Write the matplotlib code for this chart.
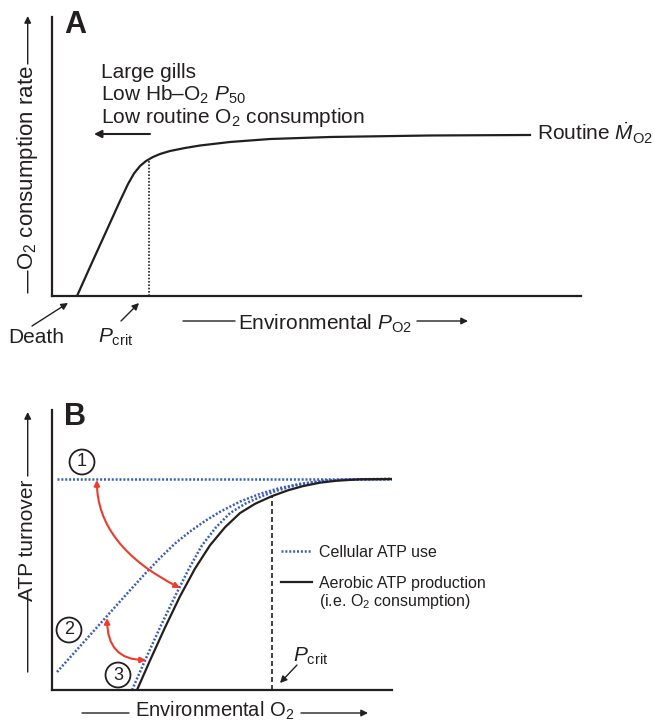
import matplotlib.pyplot as plt
from matplotlib.lines import Line2D
from matplotlib.patches import FancyArrowPatch

plt.rcParams['font.family'] = 'Liberation Sans'
plt.rcParams['mathtext.fontset'] = 'custom'
plt.rcParams['mathtext.rm'] = 'Liberation Sans'
plt.rcParams['mathtext.it'] = 'Liberation Sans:italic'
plt.rcParams['mathtext.bf'] = 'Liberation Sans:bold'

INK = '#231f20'
BLUE = '#3b5bbf'
RED = '#ee3b2b'
W, H = 654, 723
FS = 15

# panel A: routine O2 consumption vs environmental PO2 (schematic units 0-100)
po2_a = [4.73, 7.18, 10.02, 12.85, 14.37, 15.5, 16.64, 17.77, 19.09, 20.42, 22.31,
         25.14, 27.98, 33.65, 41.21, 52.55, 71.46, 90.36]
mo2_a = [0, 10.39, 22.22, 34.05, 40.14, 43.91, 46.59, 48.39, 49.82, 50.9, 51.97,
         53.05, 53.94, 55.2, 56.27, 56.99, 57.53, 57.71]
pcrit_a = 18.34
pcrit_a_top = 49.0

# panel B: ATP turnover vs environmental O2
aer_x = [25.0, 28.82, 33.24, 37.65, 42.06, 46.47, 50.88, 55.29, 59.71, 64.71, 69.41,
         73.82, 78.82, 83.82, 90.59, 100]
aer_y = [0, 10.54, 22.32, 33.46, 43.36, 51.68, 58.11, 63.18, 66.5, 69.25, 71.32,
         72.82, 74.04, 74.75, 75.25, 75.36]
use1_x = [1.47, 100]
use1_y = [75.36, 75.36]
use2_x = [1.47, 5.29, 9.71, 14.12, 18.53, 22.94, 27.35, 31.76, 36.18, 40.59, 45.0,
          49.41, 55.29, 61.18, 67.06, 72.94, 80.29, 87.65, 100]
use2_y = [6.43, 11.61, 17.61, 23.61, 29.61, 35.61, 41.5, 47.14, 52.32, 56.61, 60.36,
          63.64, 67.29, 70.07, 72.14, 73.64, 74.71, 75.18, 75.36]
use3_x = [23.53, 27.35, 31.76, 36.18, 40.29, 44.12, 48.24, 52.35, 56.76, 61.76, 66.47,
          70.88, 75.88, 80.88, 87.65, 100]
use3_y = [0, 10.54, 22.32, 33.46, 43.36, 51.68, 58.11, 63.18, 66.5, 69.25, 71.32,
          72.82, 74.04, 74.75, 75.25, 75.36]
pcrit_b = 64.71
pcrit_b_top = 69.25
# red arrows (start, end)
shift1 = [(13.2, 75.0), (37.65, 36.43)]
shift2 = [(16.2, 25.7), (27.65, 10.71)]

fig = plt.figure(figsize=(W / 100, H / 100), dpi=100)


def ftext(x, y, s, **kw):
    # x, y in image pixels (y from top)
    kw.setdefault('color', INK)
    kw.setdefault('fontsize', FS)
    fig.text(x / W, 1 - y / H, s, **kw)


def farrow(x0, y0, x1, y1, style='-|>', lw=1.0, ms=10):
    fig.add_artist(FancyArrowPatch(
        (x0, H - y0), (x1, H - y1), transform=None, arrowstyle=style,
        color=INK, lw=lw, mutation_scale=ms, shrinkA=0, shrinkB=0))


def setup(ax):
    for s in ['top', 'right']:
        ax.spines[s].set_visible(False)
    for s in ['left', 'bottom']:
        ax.spines[s].set_linewidth(1.6)
        ax.spines[s].set_color(INK)
    ax.set_xticks([])
    ax.set_yticks([])
    ax.set_xlim(0, 100)
    ax.set_ylim(0, 100)
    ax.patch.set_alpha(0)


# ---- panel A ----
axA = fig.add_axes([52 / W, (H - 296) / H, 529 / W, 279 / H])
setup(axA)
axA.plot(po2_a, mo2_a, color=INK, lw=1.6, solid_joinstyle='round')
axA.plot([pcrit_a, pcrit_a], [0, pcrit_a_top], color=INK, lw=1.2, ls=(0, (1, 1)))

ftext(64, 33, 'A', fontsize=22, fontweight='bold')
ftext(101, 78, 'Large gills')
ftext(101, 100.5, r'Low Hb–O$_2$ $P_{\mathrm{50}}$')
ftext(101, 123, r'Low routine O$_2$ consumption')
farrow(150, 134, 94, 134, lw=1.5, ms=11)
ftext(537, 141, r'Routine $\dot{M}_{\mathrm{O2}}$')

ftext(27.7, 168, r'O$_2$ consumption rate', rotation=90, ha='center', va='center',
      fontsize=16)
farrow(27.7, 64, 27.7, 16)
farrow(27.7, 293, 27.7, 271, style='-')

ftext(8, 343, 'Death')
farrow(32, 326, 68, 303)
ftext(98, 343, r'$P_{\mathrm{crit}}$')
farrow(121, 321, 139, 303)
farrow(183, 321, 235, 321, style='-')
ftext(238, 330, r'Environmental $P_{\mathrm{O2}}$')
farrow(417, 321, 468, 321)

# ---- panel B ----
axB = fig.add_axes([52 / W, 33 / H, 340 / W, 280 / H])
setup(axB)
dot = (0, (0.8, 0.75))
axB.plot(use1_x, use1_y, color=BLUE, lw=1.8, ls=dot)
axB.plot(use2_x, use2_y, color=BLUE, lw=1.8, ls=dot)
axB.plot(use3_x, use3_y, color=BLUE, lw=1.8, ls=dot)
axB.plot(aer_x, aer_y, color=INK, lw=1.6, solid_joinstyle='round')
axB.plot([pcrit_b, pcrit_b], [0, pcrit_b_top], color=INK, lw=1.2, ls=(0, (3, 1.8)))

axB.annotate('', xy=shift1[1], xytext=shift1[0],
             arrowprops=dict(arrowstyle='<|-|>', color=RED, lw=1.5, mutation_scale=8,
                             shrinkA=0, shrinkB=0,
                             connectionstyle='angle3,angleA=90,angleB=-27'))
axB.annotate('', xy=shift2[1], xytext=shift2[0],
             arrowprops=dict(arrowstyle='<|-|>', color=RED, lw=1.5, mutation_scale=8,
                             shrinkA=0, shrinkB=0,
                             connectionstyle='angle3,angleA=90,angleB=0'))

circ = dict(boxstyle='circle,pad=0.22', fc='none', ec=INK, lw=1.3)
ftext(82, 462, '1', fontsize=13, ha='center', va='center', bbox=circ)
ftext(69, 630, '2', fontsize=13, ha='center', va='center', bbox=circ)
ftext(118, 675, '3', fontsize=13, ha='center', va='center', bbox=circ)

ftext(64, 425, 'B', fontsize=22, fontweight='bold')
ftext(27.7, 540, 'ATP turnover', rotation=90, ha='center', va='center')
farrow(27.7, 476, 27.7, 412)
farrow(27.7, 672, 27.7, 600, style='-')

ftext(293, 662, r'$P_{\mathrm{crit}}$')
farrow(297, 665, 280, 683)
farrow(82, 713, 129, 713, style='-')
ftext(135, 717, r'Environmental O$_2$', fontsize=14.5)
farrow(301, 713, 368, 713)

handles = [Line2D([], [], color=BLUE, lw=1.8, ls=dot),
           Line2D([], [], color=INK, lw=1.6)]
labels = ['Cellular ATP use', 'Aerobic ATP production']
leg = fig.legend(handles, labels, loc='upper left', bbox_to_anchor=(281 / W, 1 - 545 / H),
                 frameon=False, fontsize=11.5, borderpad=0, borderaxespad=0,
                 handlelength=1.95, handletextpad=0.45, labelspacing=1.0)
for t in leg.get_texts():
    t.set_color(INK)
ftext(319, 606, r'(i.e. O$_2$ consumption)', fontsize=11.5)

fig.savefig('out.png', dpi=100)
